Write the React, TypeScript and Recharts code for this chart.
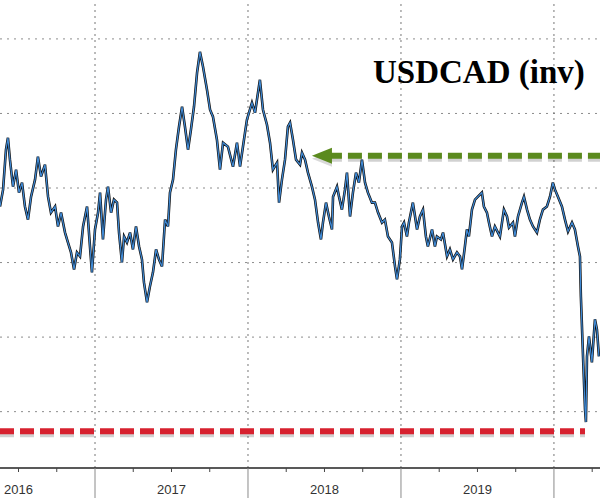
import React from 'react'
import { LineChart, Line, XAxis, YAxis, ReferenceLine } from 'recharts'

// decimal years
const TIMES = [
  2016.379, 2016.399, 2016.418, 2016.431, 2016.444, 2016.464, 2016.484, 2016.503, 2016.523, 2016.542,
  2016.562, 2016.582, 2016.608, 2016.627, 2016.647, 2016.673, 2016.693, 2016.712, 2016.739, 2016.758,
  2016.778, 2016.804, 2016.823, 2016.843, 2016.863, 2016.882, 2016.902, 2016.922, 2016.948, 2016.967,
  2016.98, 2017.0, 2017.02, 2017.033, 2017.052, 2017.072, 2017.085, 2017.105, 2017.124, 2017.144,
  2017.157, 2017.176, 2017.19, 2017.209, 2017.229, 2017.248, 2017.268, 2017.288, 2017.307, 2017.32,
  2017.34, 2017.359, 2017.379, 2017.399, 2017.418, 2017.438, 2017.458, 2017.477, 2017.49, 2017.51,
  2017.529, 2017.549, 2017.569, 2017.588, 2017.608, 2017.627, 2017.647, 2017.667, 2017.686, 2017.706,
  2017.732, 2017.752, 2017.771, 2017.797, 2017.817, 2017.837, 2017.869, 2017.902, 2017.928, 2017.948,
  2017.967, 2017.993, 2018.026, 2018.046, 2018.078, 2018.098, 2018.124, 2018.144, 2018.163, 2018.19,
  2018.203, 2018.222, 2018.242, 2018.261, 2018.275, 2018.294, 2018.314, 2018.34, 2018.353, 2018.373,
  2018.392, 2018.418, 2018.438, 2018.458, 2018.477, 2018.49, 2018.51, 2018.529, 2018.549, 2018.556,
  2018.582, 2018.595, 2018.614, 2018.634, 2018.647, 2018.667, 2018.686, 2018.706, 2018.725, 2018.745,
  2018.765, 2018.784, 2018.81, 2018.83, 2018.85, 2018.876, 2018.895, 2018.915, 2018.941, 2018.961,
  2018.974, 2018.993, 2019.007, 2019.02, 2019.039, 2019.052, 2019.078, 2019.092, 2019.105, 2019.124,
  2019.144, 2019.163, 2019.176, 2019.203, 2019.222, 2019.235, 2019.261, 2019.275, 2019.301, 2019.32,
  2019.34, 2019.366, 2019.386, 2019.399, 2019.418, 2019.431, 2019.444, 2019.464, 2019.484, 2019.503,
  2019.529, 2019.542, 2019.562, 2019.575, 2019.595, 2019.614, 2019.634, 2019.647, 2019.673, 2019.693,
  2019.706, 2019.732, 2019.745, 2019.765, 2019.791, 2019.804, 2019.824, 2019.843, 2019.863, 2019.889,
  2019.908, 2019.928, 2019.954, 2019.974, 2019.993, 2020.007, 2020.026, 2020.052, 2020.072, 2020.092,
  2020.118, 2020.137, 2020.157, 2020.17, 2020.176, 2020.19, 2020.203, 2020.209, 2020.216, 2020.229,
  2020.248, 2020.268, 2020.281, 2020.294,
]

const USDCAD = [
  1.3124, 1.3011, 1.2743, 1.2663, 1.281, 1.2991, 1.2877, 1.3031, 1.2964, 1.3124,
  1.3212, 1.3058, 1.2944, 1.279, 1.2924, 1.2843, 1.3058, 1.3165, 1.3124, 1.3258,
  1.3165, 1.3299, 1.3365, 1.3432, 1.3546, 1.3432, 1.3459, 1.3258, 1.3124, 1.3392,
  1.3566, 1.3278, 1.3165, 1.3031, 1.3345, 1.3078, 1.2991, 1.3165, 1.3078, 1.3098,
  1.3299, 1.3499, 1.3325, 1.3365, 1.3299, 1.3412, 1.3258, 1.3392, 1.3479, 1.3633,
  1.3767, 1.366, 1.3566, 1.3412, 1.3479, 1.3526, 1.3212, 1.3258, 1.3031, 1.2944,
  1.2743, 1.2589, 1.2455, 1.2589, 1.2743, 1.2609, 1.2455, 1.2228, 1.2087, 1.2187,
  1.2341, 1.2475, 1.2522, 1.2676, 1.2877, 1.2696, 1.2723, 1.2857, 1.2696, 1.2857,
  1.2723, 1.2542, 1.2428, 1.2495, 1.2274, 1.2475, 1.2576, 1.2696, 1.2877, 1.283,
  1.3098, 1.2944, 1.281, 1.2589, 1.2562, 1.2676, 1.281, 1.2843, 1.2763, 1.281,
  1.2897, 1.2991, 1.3078, 1.3232, 1.3345, 1.3232, 1.3098, 1.3191, 1.3278, 1.3058,
  1.2991, 1.3058, 1.3145, 1.3011, 1.2897, 1.3191, 1.3031, 1.2897, 1.2964, 1.281,
  1.2964, 1.3031, 1.3098, 1.3098, 1.3165, 1.3232, 1.3212, 1.3325, 1.3365, 1.3526,
  1.3613, 1.3479, 1.3258, 1.3232, 1.3325, 1.3232, 1.3098, 1.3191, 1.3278, 1.3191,
  1.3145, 1.3325, 1.3392, 1.3278, 1.3392, 1.3325, 1.3345, 1.3299, 1.3459, 1.3412,
  1.3479, 1.3432, 1.3459, 1.3546, 1.3392, 1.3278, 1.3325, 1.3145, 1.3078, 1.3058,
  1.3031, 1.3124, 1.3165, 1.3232, 1.3325, 1.3258, 1.3299, 1.3325, 1.3145, 1.3191,
  1.3265, 1.3232, 1.3325, 1.3191, 1.3098, 1.3058, 1.3145, 1.3212, 1.3258, 1.3299,
  1.3212, 1.3145, 1.3124, 1.3058, 1.2964, 1.3011, 1.3058, 1.3124, 1.3212, 1.3292,
  1.3232, 1.3278, 1.3392, 1.3459, 1.3727, 1.4129, 1.4483, 1.457, 1.4129, 1.3995,
  1.4169, 1.3881, 1.3948, 1.4129,
]

const GRID_LEVELS = [1.2, 1.25, 1.3, 1.35, 1.4, 1.45]
const YEAR_STARTS = [2017, 2018, 2019, 2020]
const AXIS_TICKS = [
  2016.5, 2016.75, 2017, 2017.25, 2017.5, 2017.75, 2018, 2018.25, 2018.5, 2018.75,
  2019, 2019.25, 2019.5, 2019.75, 2020, 2020.25,
]

const T_MIN = 2016.379
const T_MAX = 2020.301
const Y_MIN = 1.1739
const Y_MAX = 1.4878

// reference levels
const GREEN_LEVEL = 1.2783
const GREEN_FROM = 2018.418
const RED_LEVEL = 1.4631
const RED_TO = 2020.203

const data = TIMES.map((t, i) => ({ t, v: USDCAD[i] }))

const AXIS_H = 30

function AxisTick(props: any) {
  const { x, y, payload } = props
  const v = payload.value
  if (Number.isInteger(v)) {
    return <line x1={x} x2={x} y1={y} y2={y + AXIS_H} stroke="#8a8a8a" strokeWidth={1} />
  }
  const isMid = Math.abs((v % 1) - 0.5) < 1e-6
  return (
    <g>
      <line x1={x} x2={x} y1={y} y2={y + 4} stroke="#444" strokeWidth={1} />
      {isMid && (
        <text
          x={x}
          y={y + 26}
          textAnchor="middle"
          fontFamily="'Liberation Sans', Arial, sans-serif"
          fontSize={13}
          fill="#333"
        >
          {Math.floor(v)}
        </text>
      )}
    </g>
  )
}

function dashedShape(color: string, arrow: boolean) {
  return (p: any) => {
    const { x1, y1, x2 } = p
    const start = arrow ? x1 + 16 : x1
    return (
      <g>
        <line x1={start} x2={x2} y1={y1 + 3} y2={y1 + 3} stroke="rgba(0,0,0,0.18)" strokeWidth={6} strokeDasharray="14 6" />
        <line x1={start} x2={x2} y1={y1} y2={y1} stroke={color} strokeWidth={6} strokeDasharray="14 6" />
        {arrow && (
          <>
            <path d={`M${x1} ${y1 + 3} L${x1 + 20} ${y1 - 5} L${x1 + 20} ${y1 + 11} Z`} fill="rgba(0,0,0,0.15)" />
            <path d={`M${x1} ${y1} L${x1 + 20} ${y1 - 8} L${x1 + 20} ${y1 + 8} Z`} fill={color} />
          </>
        )}
      </g>
    )
  }
}

export default function App() {
  return (
    <div style={{ position: 'absolute', left: 0, top: 0, width: 600, height: 498, background: '#fff' }}>
      <LineChart width={600} height={498} data={data} margin={{ top: 0, right: 0, bottom: 0, left: 0 }}>
        <XAxis
          dataKey="t"
          type="number"
          domain={[T_MIN, T_MAX]}
          allowDataOverflow
          ticks={AXIS_TICKS}
          interval={0}
          height={AXIS_H}
          tickSize={0}
          tickMargin={0}
          tickLine={false}
          axisLine={{ stroke: '#222', strokeWidth: 1.5 }}
          tick={<AxisTick />}
        />
        <YAxis hide reversed domain={[Y_MIN, Y_MAX]} allowDataOverflow />
        {GRID_LEVELS.map((g) => (
          <ReferenceLine key={g} y={g} stroke="#8c8c8c" strokeDasharray="2 5" />
        ))}
        {YEAR_STARTS.map((yr) => (
          <ReferenceLine key={yr} x={yr} stroke="#777" strokeDasharray="2 4" />
        ))}
        <ReferenceLine
          segment={[{ x: T_MIN, y: RED_LEVEL }, { x: RED_TO, y: RED_LEVEL }]}
          ifOverflow="visible"
          shape={dashedShape('#d7212f', false)}
        />
        <Line type="linear" dataKey="v" stroke="#111" strokeWidth={2.6} dot={false} activeDot={false} isAnimationActive={false} />
        <Line type="linear" dataKey="v" stroke="#3f8ad6" strokeWidth={1.2} dot={false} activeDot={false} isAnimationActive={false} />
        <ReferenceLine
          segment={[{ x: GREEN_FROM, y: GREEN_LEVEL }, { x: T_MAX, y: GREEN_LEVEL }]}
          ifOverflow="visible"
          shape={dashedShape('#5b8a1e', true)}
        />
      </LineChart>
      <div
        style={{
          position: 'absolute',
          left: 373,
          top: 52,
          fontFamily: "'Liberation Serif', 'Times New Roman', serif",
          fontWeight: 'bold',
          fontSize: 33,
          color: '#000',
          lineHeight: '40px',
          whiteSpace: 'nowrap',
        }}
      >
        USDCAD (inv)
      </div>
    </div>
  )
}
